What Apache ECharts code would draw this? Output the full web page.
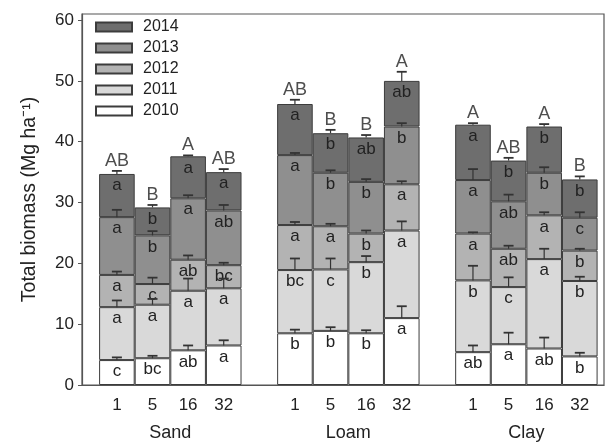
<!DOCTYPE html>
<html>
<head>
<meta charset="utf-8">
<script src="https://cdn.jsdelivr.net/npm/echarts@6/dist/echarts.min.js"></script>
<style>html,body{margin:0;padding:0;background:#fff;}#c{width:605px;height:445px;}</style>
</head>
<body>
<div id="c"></div>
<script>
// ---- data ----
const soils = ['Sand', 'Loam', 'Clay'];
const treatments = ['1', '5', '16', '32'];
const years = ['2010', '2011', '2012', '2013', '2014'];

// biomass per year (Mg ha-1), order: Sand 1,5,16,32, Loam 1,5,16,32, Clay 1,5,16,32
const y2010 = [4.1, 4.4, 5.7, 6.5, 8.5, 8.9, 8.5, 11.0, 5.4, 6.7, 6.0, 4.7];
const y2011 = [8.7, 8.8, 9.8, 9.4, 10.4, 10.1, 11.7, 14.4, 11.8, 9.4, 14.7, 12.4];
const y2012 = [5.3, 3.4, 5.1, 3.8, 7.4, 7.1, 4.7, 7.6, 7.7, 6.3, 7.2, 5.0];
const y2013 = [9.5, 8.0, 10.1, 9.0, 11.5, 8.8, 8.5, 9.5, 8.8, 7.8, 7.0, 5.4];
const y2014 = [7.1, 4.6, 6.9, 6.3, 8.4, 6.5, 7.3, 7.5, 9.1, 6.7, 7.6, 6.3];

// standard errors
const e2010 = [0.44, 0.4, 0.8, 0.85, 0.6, 0.6, 0.5, 1.95, 1.1, 1.9, 1.8, 0.6];
const e2011 = [1.1, 0.95, 2.0, 1.6, 1.9, 1.8, 1.0, 1.5, 2.4, 1.6, 1.7, 0.7];
const e2012 = [0.55, 1.05, 0.7, 0.4, 0.5, 0.4, 0.5, 0.5, 0.2, 0.5, 0.5, 0.3];
const e2013 = [1.2, 0.7, 0.5, 0.9, 0.35, 0.4, 0.45, 0.55, 1.8, 1.1, 0.9, 0.9];
const e2014 = [0.5, 0.4, 0.15, 0.5, 0.7, 0.55, 0.4, 1.5, 0.25, 0.45, 0.4, 0.5];

// significance letters
const l2010 = ['c', 'bc', 'ab', 'a', 'b', 'b', 'b', 'a', 'ab', 'a', 'ab', 'b'];
const l2011 = ['a', 'a', 'a', 'a', 'bc', 'c', 'b', 'a', 'b', 'c', 'a', 'b'];
const l2012 = ['a', 'c', 'ab', 'bc', 'a', 'a', 'b', 'a', 'a', 'ab', 'a', 'b'];
const l2013 = ['a', 'b', 'a', 'ab', 'a', 'b', 'b', 'b', 'a', 'ab', 'b', 'c'];
const l2014 = ['a', 'b', 'a', 'a', 'a', 'b', 'ab', 'ab', 'a', 'b', 'b', 'b'];
const totalLetters = ['AB', 'B', 'A', 'AB', 'AB', 'B', 'B', 'A', 'A', 'AB', 'A', 'B'];

const yTicks = [0, 10, 20, 30, 40, 50, 60];

// ---- build ----
const values = [y2010, y2011, y2012, y2013, y2014];
const errs = [e2010, e2011, e2012, e2013, e2014];
const letters = [l2010, l2011, l2012, l2013, l2014];
const colors = ['#ffffff', '#d9d9d9', '#b3b3b3', '#8f8f8f', '#6e6e6e'];
const FONT = 'Liberation Sans, Arial, sans-serif';

const nPerSoil = treatments.length;
const xPos = i => Math.floor(i / nPerSoil) * (nPerSoil + 1) + (i % nPerSoil);
const labelPositions = [];
const labelText = {};
soils.forEach((s, si) => treatments.forEach((t, ti) => {
  const p = si * (nPerSoil + 1) + ti;
  labelPositions.push(p);
  labelText[p] = t;
}));
const soilPositions = soils.map((s, si) => si * (nPerSoil + 1) + (nPerSoil - 1) / 2);
const soilText = {};
soilPositions.forEach((p, si) => soilText[p] = soils[si]);

const series = [];
const errData = [];
const cum = new Array(y2010.length).fill(0);
years.forEach((yr, k) => {
  // value first so that stacking happens on the value dimension
  const data = values[k].map((v, i) => [v, xPos(i)]);
  values[k].forEach((v, i) => {
    cum[i] += v;
    errData.push([xPos(i), cum[i], cum[i] + errs[k][i]]);
  });
  series.push({
    name: yr,
    type: 'bar',
    stack: 'total',
    barWidth: 35.6,
    data: data,
    encode: { x: 1, y: 0 },
    itemStyle: { color: colors[k], borderColor: '#3c3c3c', borderWidth: 1 },
    label: {
      show: true,
      position: 'insideTop',
      distance: 3,
      fontSize: 17,
      fontFamily: FONT,
      color: '#222',
      formatter: p => letters[k][p.dataIndex]
    },
    z: 2
  });
});
series.push({
  type: 'custom',
  data: errData,
  encode: { x: 0, y: [1, 2] },
  z: 5,
  silent: true,
  renderItem: function (params, api) {
    const x = api.value(0);
    const p0 = api.coord([x, api.value(1)]);
    const p1 = api.coord([x, api.value(2)]);
    return {
      type: 'group',
      children: [
        { type: 'line', shape: { x1: p0[0], y1: p0[1], x2: p1[0], y2: p1[1] }, style: { stroke: '#333', lineWidth: 1.2 } },
        { type: 'line', shape: { x1: p1[0] - 5, y1: p1[1], x2: p1[0] + 5, y2: p1[1] }, style: { stroke: '#333', lineWidth: 1.8 } }
      ]
    };
  }
});
series.push({
  type: 'scatter',
  symbolSize: 0,
  silent: true,
  z: 6,
  data: cum.map((c, i) => [xPos(i), c + e2014[i]]),
  label: {
    show: true,
    position: 'top',
    distance: 1,
    fontSize: 18,
    fontFamily: FONT,
    color: '#222',
    formatter: p => totalLetters[p.dataIndex]
  }
});

const chart = echarts.init(document.getElementById('c'), null, { renderer: 'canvas' });
chart.setOption({
  animation: false,
  backgroundColor: '#fff',
  textStyle: { fontFamily: FONT },
  grid: { left: 82, right: 1, top: 14, bottom: 60, show: true, borderColor: '#555', borderWidth: 1.2, backgroundColor: 'transparent' },
  legend: {
    data: years.slice().reverse(),
    orient: 'vertical',
    left: 90,
    top: 14,
    itemWidth: 36,
    itemHeight: 9,
    itemGap: 5,
    icon: 'rect',
    textStyle: { fontSize: 16, color: '#222', padding: [0, 0, 0, 6], fontFamily: FONT }
  },
  xAxis: [{
    type: 'value',
    position: 'bottom',
    min: -0.98,
    max: 13.68,
    splitLine: { show: false },
    axisLine: { show: true, onZero: false, lineStyle: { color: '#555', width: 1.2 } },
    axisTick: { show: false },
    axisLabel: {
      customValues: labelPositions,
      formatter: v => labelText[v] !== undefined ? labelText[v] : '',
      fontSize: 17, color: '#222', margin: 12
    }
  }, {
    type: 'value',
    position: 'bottom',
    min: -0.98,
    max: 13.68,
    splitLine: { show: false },
    axisLine: { show: false, onZero: false },
    axisTick: { show: false },
    axisLabel: {
      customValues: soilPositions,
      formatter: v => soilText[v] !== undefined ? soilText[v] : '',
      fontSize: 18, color: '#222', margin: 39
    }
  }],
  yAxis: {
    type: 'value',
    min: 0,
    max: 61,
    interval: 10,
    name: 'Total biomass (Mg ha\u207B\u00B9)',
    nameLocation: 'middle',
    nameGap: 42,
    nameTextStyle: { fontSize: 19.5, color: '#222' },
    splitLine: { show: false },
    axisLine: { show: true, onZero: false, lineStyle: { color: '#555', width: 1.2 } },
    axisTick: { show: true, length: 4, lineStyle: { color: '#555' } },
    axisLabel: {
      showMaxLabel: false,
      fontSize: 17, color: '#222', margin: 8,
      formatter: v => yTicks.indexOf(v) >= 0 ? String(v) : ''
    }
  },
  series: series
});
</script>
</body>
</html>
